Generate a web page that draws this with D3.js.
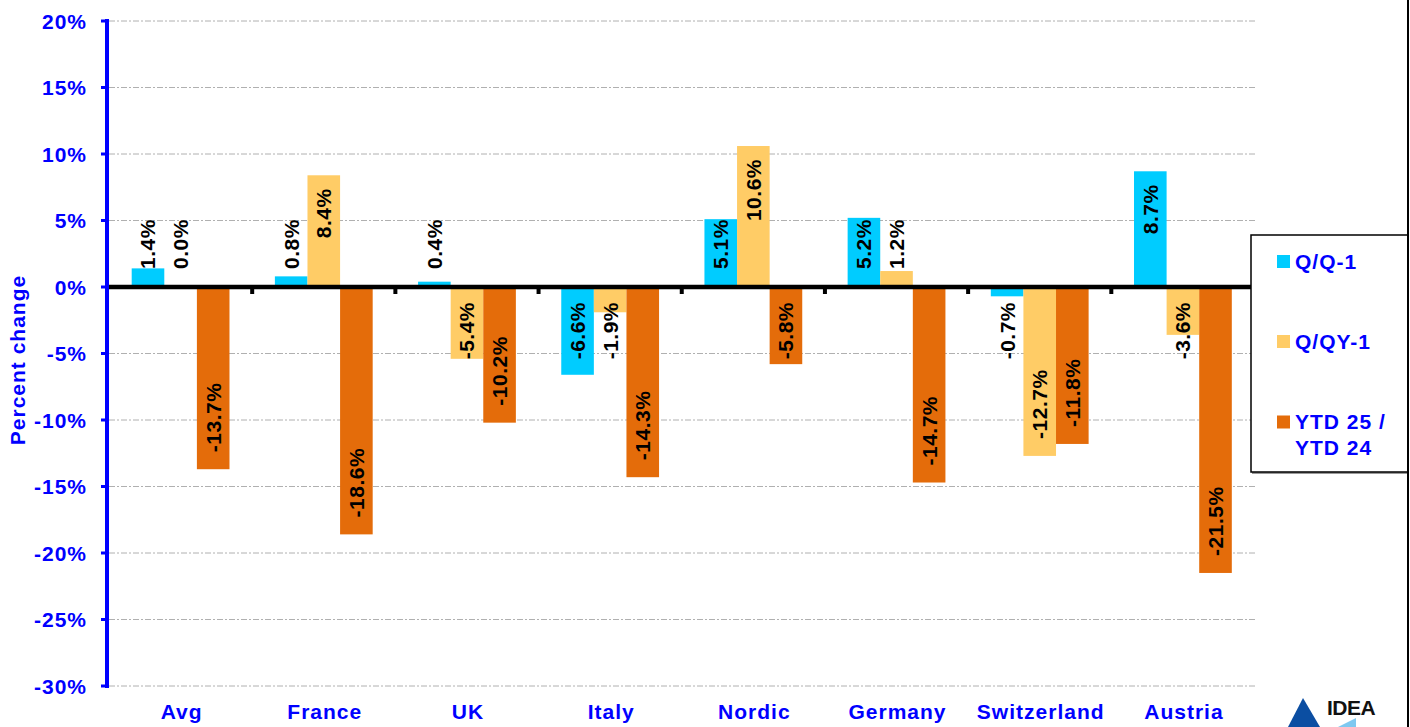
<!DOCTYPE html>
<html>
<head>
<meta charset="utf-8">
<script src="https://cdn.jsdelivr.net/npm/d3@7"></script>
<style>
  html, body { margin: 0; padding: 0; background: #fff; }
  svg { display: block; font-family: "Liberation Sans", Arial, sans-serif; }
</style>
</head>
<body>
<svg id="chart" width="1410" height="727"></svg>
<script>
const categories = ["Avg", "France", "UK", "Italy", "Nordic", "Germany", "Switzerland", "Austria"];
const seriesNames = ["Q/Q-1", "Q/QY-1", "YTD 25 / YTD 24"];
const qq1  = [1.4, 0.8, 0.4, -6.6, 5.1, 5.2, -0.7, 8.7];
const qqy1 = [0.0, 8.4, -5.4, -1.9, 10.6, 1.2, -12.7, -3.6];
const ytd  = [-13.7, -18.6, -10.2, -14.3, -5.8, -14.7, -11.8, -21.5];
const yTicks = [-30, -25, -20, -15, -10, -5, 0, 5, 10, 15, 20];
const colors = ["#00CCFF", "#FFCC66", "#E46C0A"];

const seriesValues = [qq1, qqy1, ytd];
const svg = d3.select("#chart");
const blue = "#0000FF";
const FONT = "bold 21px";

const y = d3.scaleLinear().domain([-30, 20]).range([686, 21]);
const pIn = 0.317;
const x0 = d3.scaleBand().domain(categories).range([109, 1254.5]).paddingInner(pIn).paddingOuter(pIn / 2);
const x1 = d3.scaleBand().domain(seriesNames).range([0, x0.bandwidth()]);
const zeroY = y(0);

// gridlines
svg.append("g").selectAll("line").data(yTicks.filter(d => d !== 0)).join("line")
  .attr("x1", 109).attr("x2", 1255)
  .attr("y1", d => y(d)).attr("y2", d => y(d))
  .attr("stroke", "#b0b0b0").attr("stroke-width", 1)
  .attr("stroke-dasharray", "6,2,2,2");

// bars
const groups = svg.append("g").selectAll("g").data(categories).join("g")
  .attr("transform", c => `translate(${x0(c)},0)`);
groups.selectAll("rect").data((c, i) => seriesNames.map((s, k) => ({s, k, v: seriesValues[k][i]}))).join("rect")
  .attr("x", d => x1(d.s))
  .attr("width", x1.bandwidth())
  .attr("y", d => Math.min(y(d.v), zeroY))
  .attr("height", d => Math.abs(y(d.v) - zeroY))
  .attr("fill", d => colors[d.k]);

// zero line
svg.append("line").attr("x1", 107).attr("x2", 1252).attr("y1", zeroY).attr("y2", zeroY)
  .attr("stroke", "#000").attr("stroke-width", 4.5);

// category boundary ticks
svg.append("g").selectAll("rect").data(categories.slice(1)).join("rect")
  .attr("x", c => x0(c) - (x0.step() - x0.bandwidth()) / 2 - 2)
  .attr("y", zeroY)
  .attr("width", 4).attr("height", 7).attr("fill", "#000");

// y axis
const yAxisG = svg.append("g");
yAxisG.append("line").attr("x1", 107).attr("x2", 107).attr("y1", 19).attr("y2", 688)
  .attr("stroke", blue).attr("stroke-width", 4);
yAxisG.selectAll("line.tick").data(yTicks).join("line").attr("class", "tick")
  .attr("x1", 101).attr("x2", 107).attr("y1", d => y(d)).attr("y2", d => y(d))
  .attr("stroke", blue).attr("stroke-width", 3);
yAxisG.selectAll("text").data(yTicks).join("text")
  .attr("x", 87).attr("y", d => y(d)).attr("dy", "0.36em")
  .attr("text-anchor", "end")
  .attr("fill", blue).style("font", FONT + " 'Liberation Sans', Arial, sans-serif").style("letter-spacing", "1px")
  .text(d => d + "%");

svg.append("text")
  .attr("transform", "translate(25,360) rotate(-90)")
  .attr("text-anchor", "middle")
  .attr("fill", blue).style("font", FONT + " 'Liberation Sans', Arial, sans-serif").style("letter-spacing", "1px")
  .text("Percent change");

// x labels
svg.append("g").selectAll("text").data(categories).join("text")
  .attr("x", c => x0(c) + x0.bandwidth() / 2 + 1)
  .attr("y", 719)
  .attr("text-anchor", "middle")
  .attr("fill", blue).style("font", FONT + " 'Liberation Sans', Arial, sans-serif").style("letter-spacing", "1px")
  .text(c => c);

// data labels
const labelData = [];
categories.forEach((c, i) => seriesNames.forEach((s, k) => labelData.push({c, s, v: seriesValues[k][i]})));
const labels = svg.append("g").selectAll("text").data(labelData).join("text")
  .attr("text-anchor", "start")
  .attr("dominant-baseline", "central")
  .attr("fill", "#000").style("font", "bold 21px 'Liberation Sans', Arial, sans-serif").style("letter-spacing", "0.5px")
  .text(d => d.v.toFixed(1) + "%");
labels.each(function(d) {
  const L = this.getComputedTextLength();
  const cx = x0(d.c) + x1(d.s) + x1.bandwidth() / 2;
  let bottom;
  if (d.v >= 0) {
    bottom = Math.min(zeroY - 18, y(d.v) + 13 + L);
  } else {
    bottom = Math.max(zeroY + 15 + L, y(d.v) - 17);
  }
  d3.select(this).attr("transform", `translate(${cx},${bottom}) rotate(-90)`);
});

// legend
const lg = svg.append("g");
lg.append("line").attr("x1", 1252).attr("x2", 1408).attr("y1", 473).attr("y2", 473).attr("stroke", "#999").attr("stroke-width", 2);
lg.append("rect").attr("x", 1251).attr("y", 235).attr("width", 157).attr("height", 237)
  .attr("fill", "#fff").attr("stroke", "#000").attr("stroke-width", 1.5);
const legendRows = [
  {k: 0, sy: 255, lines: ["Q/Q-1"]},
  {k: 1, sy: 335, lines: ["Q/QY-1"]},
  {k: 2, sy: 415.5, lines: ["YTD 25 /", "YTD 24"]}
];
legendRows.forEach(r => {
  lg.append("rect").attr("x", 1277).attr("y", r.sy).attr("width", 13).attr("height", 13).attr("fill", colors[r.k]);
  r.lines.forEach((t, j) => {
    lg.append("text").attr("x", 1295).attr("y", r.sy + 13.5 + j * 26)
      .attr("fill", blue).style("font", FONT + " 'Liberation Sans', Arial, sans-serif").style("letter-spacing", "1px")
      .text(t);
  });
});

// right border
svg.append("line").attr("x1", 1408).attr("x2", 1408).attr("y1", 0).attr("y2", 727).attr("stroke", "#000").attr("stroke-width", 2);

// logo
const logo = svg.append("g");
logo.append("polygon").attr("points", "1303,698 1288,727 1320,727").attr("fill", "#0B4EA2");
logo.append("polygon").attr("points", "1356,718 1338,727 1356,727").attr("fill", "#7EC8F0");
logo.append("text").attr("x", 1327).attr("y", 715)
  .attr("fill", "#111").style("font", "bold 21px 'Liberation Sans', Arial, sans-serif").style("letter-spacing", "-0.5px")
  .text("IDEA");
</script>
</body>
</html>
